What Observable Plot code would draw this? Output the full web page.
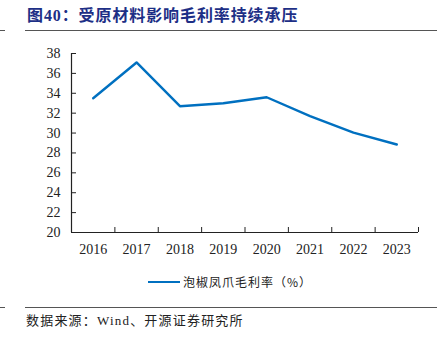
<!DOCTYPE html>
<html><head><meta charset="utf-8">
<script src="https://cdn.jsdelivr.net/npm/d3@7"></script>
<script src="https://cdn.jsdelivr.net/npm/@observablehq/plot@0.6"></script>
<style>
body{margin:0;background:#fff;}
#wrap{position:relative;width:444px;height:341px;overflow:hidden;background:#fff;font-family:"Liberation Serif","Noto Sans CJK SC",serif;color:#222;}
#title{position:absolute;left:27px;top:5px;font-size:16px;font-weight:bold;letter-spacing:0.9px;color:#1d2f86;white-space:nowrap;line-height:22px;}
.hr{position:absolute;height:0;border-top:1.5px solid #555;}
#chart{position:absolute;left:0;top:0;}
#legend{position:absolute;left:148px;top:273px;font-size:12px;letter-spacing:1px;white-space:nowrap;line-height:18px;display:flex;align-items:center;}
#legend .sw{display:inline-block;width:32px;height:0;border-top:2.5px solid #0070C0;margin-right:3px;}
#legend .t{font-family:"Noto Sans CJK SC",sans-serif;}
#source{position:absolute;left:26px;top:312px;font-size:13px;letter-spacing:1.2px;white-space:nowrap;line-height:18px;}
</style></head><body>
<div id="wrap">
  <div id="title">图40：受原材料影响毛利率持续承压</div>
  <div class="hr" style="left:0;width:5px;top:30px"></div>
  <div class="hr" style="left:25px;width:412px;top:30px"></div>
  <div id="chart"></div>
  <div id="legend"><span class="sw"></span><span class="t">泡椒凤爪毛利率（%）</span></div>
  <div class="hr" style="left:0;width:5px;top:307px"></div>
  <div class="hr" style="left:25px;width:412px;top:307px"></div>
  <div id="source">数据来源：Wind、开源证券研究所</div>
</div>
<script>
const years = [2016, 2017, 2018, 2019, 2020, 2021, 2022, 2023];
const grossMargin = [33.5, 37.1, 32.7, 33.0, 33.6, 31.7, 30.05, 28.85];
const yTicks = [20, 22, 24, 26, 28, 30, 32, 34, 36, 38];
const yDomain = [20, 38];
const xDomain = [2015.5, 2023.5];
const bandEdges = [2015.5, 2016.5, 2017.5, 2018.5, 2019.5, 2020.5, 2021.5, 2022.5, 2023.5];

const data = years.map((y, i) => ({year: y, value: grossMargin[i]}));

const chart = Plot.plot({
  width: 444,
  height: 260,
  marginTop: 53,
  marginBottom: 28,
  marginLeft: 71,
  marginRight: 26,
  style: {fontFamily: "Liberation Serif, serif", fontSize: "14px", color: "#222", background: "transparent"},
  x: {type: "linear", domain: xDomain},
  y: {domain: yDomain},
  marks: [
    Plot.ruleY([yDomain[0]], {stroke: "#222", strokeWidth: 1.2}),
    Plot.ruleX([xDomain[0]], {stroke: "#222", strokeWidth: 1.2}),
    Plot.axisY({ticks: yTicks, tickSize: 0, tickPadding: 11, label: null}),
    Plot.axisY({ticks: yTicks, tickSize: 5, dx: 5, tickFormat: () => "", label: null, stroke: "#222"}),
    Plot.axisX({ticks: years, tickSize: 0, tickPadding: 12, tickFormat: d => String(d), label: null}),
    Plot.axisX({ticks: bandEdges, tickSize: 5, dy: -5, tickFormat: () => "", label: null, stroke: "#222"}),
    Plot.line(data, {x: "year", y: "value", stroke: "#0070C0", strokeWidth: 2.4})
  ]
});
document.getElementById("chart").appendChild(chart);
</script>
</body></html>
